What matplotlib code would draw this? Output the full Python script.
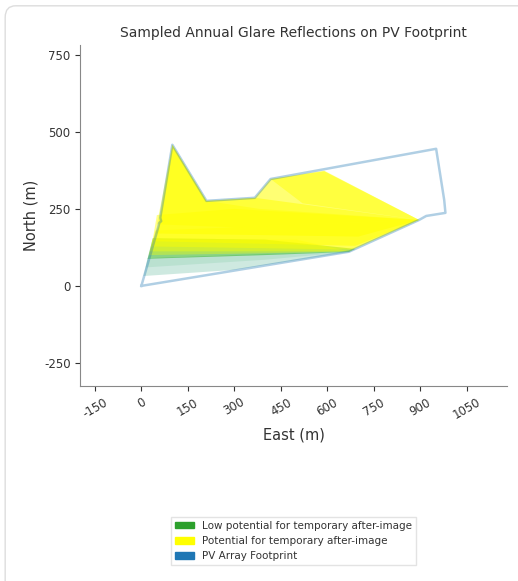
import matplotlib.pyplot as plt
from matplotlib.patches import Patch, FancyBboxPatch

plt.rcParams['axes.unicode_minus'] = False

# PV array footprint outline (East, North in m)
footprint_x = [0, 55, 58, 64, 61, 100, 210, 366, 417, 951, 977, 981, 919, 896, 670, 0]
footprint_y = [0, 192, 205, 210, 221, 458, 276, 286, 347, 445, 279, 237, 227, 214, 111, 0]

# green = low potential for after-image (drawn first, yellow blends over it)
green_patches = [
    [(7, 32), (20, 90), (400, 104), (670, 110), (300, 52)],
    [(14, 60), (20, 90), (670, 110), (400, 85)],
    [(20, 88), (37, 155), (400, 150), (690, 120), (670, 110), (400, 100)],
]
green_colors = ['#a6d8c8', '#8ccfae', '#3cb832']
green_alpha = [0.55, 0.3, 0.6]

# sampled glare reflection patches (yellow = potential for after-image)
yellow_patches = [
    [(45, 170), (55, 192), (61, 221), (100, 458), (210, 276), (366, 286),
     (417, 347), (590, 372), (896, 214), (700, 160)],
    [(38, 145), (55, 192), (100, 458), (210, 276), (366, 286), (896, 214), (690, 130)],
    [(33, 128), (50, 230), (300, 250), (896, 214), (680, 118)],
    [(417, 347), (590, 374), (896, 214), (520, 268)],
    [(29, 112), (45, 180), (896, 214), (672, 112)],
    [(50, 200), (100, 458), (210, 276), (380, 250), (896, 214), (300, 190)],
    [(25, 100), (35, 150), (500, 150), (670, 112), (400, 106)],
]
yellow_alpha = [0.55, 0.5, 0.45, 0.45, 0.4, 0.4, 0.35]

xticks = [-150, 0, 150, 300, 450, 600, 750, 900, 1050]
yticks = [-250, 0, 250, 500, 750]

fig = plt.figure(figsize=(5.18, 5.81), dpi=100)
ax = fig.add_axes([0.155, 0.3356, 0.824, 0.587])

for poly, c, a in zip(green_patches, green_colors, green_alpha):
    ax.fill([p[0] for p in poly], [p[1] for p in poly], color=c, alpha=a, lw=0)
for poly, a in zip(yellow_patches, yellow_alpha):
    ax.fill([p[0] for p in poly], [p[1] for p in poly], color='yellow', alpha=a, lw=0)

ax.plot(footprint_x, footprint_y, color='#1f77b4', alpha=0.35, lw=1.8)

ax.set_xlim(-197, 1180)
ax.set_ylim(-325, 782)
ax.set_xticks(xticks)
ax.set_yticks(yticks)
ax.tick_params(axis='x', labelsize=8.5, rotation=30, colors='#333333')
ax.tick_params(axis='y', labelsize=8.5, colors='#333333')
ax.spines['top'].set_visible(False)
ax.spines['right'].set_visible(False)
ax.spines['left'].set_color('#888888')
ax.spines['bottom'].set_color('#888888')
ax.set_xlabel('East (m)', fontsize=10.5, color='#333333')
ax.set_ylabel('North (m)', fontsize=10.5, color='#333333')
ax.set_title('Sampled Annual Glare Reflections on PV Footprint', fontsize=10, color='#333333')

handles = [Patch(color='#2ca02c', label='Low potential for temporary after-image'),
           Patch(color='yellow', label='Potential for temporary after-image'),
           Patch(color='#1f77b4', label='PV Array Footprint')]
fig.legend(handles=handles, loc='lower center', bbox_to_anchor=(0.567, 0.018),
           fontsize=7.5, frameon=True, fancybox=False, edgecolor='#dddddd',
           handlelength=1.8, handleheight=0.6, labelcolor='#333333')

# card border around the figure
fig.patches.append(FancyBboxPatch((0.01, -0.05), 1.1, 1.04, boxstyle='round,pad=0,rounding_size=0.02',
                                  transform=fig.transFigure, fill=False, ec='#dddddd', lw=1))

fig.savefig('out.png', dpi=100)
